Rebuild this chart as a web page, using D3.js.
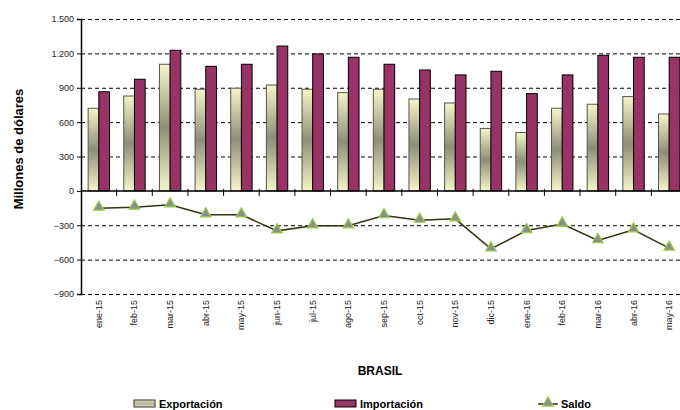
<!DOCTYPE html>
<html><head><meta charset="utf-8">
<script src="https://cdn.jsdelivr.net/npm/d3@7"></script>
<style>body{margin:0;background:#fff}svg{display:block;font-family:"Liberation Sans",Arial,sans-serif}</style>
</head><body><svg id="c" width="680" height="410"></svg>
<script>
const categories = ["ene-15","feb-15","mar-15","abr-15","may-15","jun-15","jul-15","ago-15","sep-15","oct-15","nov-15","dic-15","ene-16","feb-16","mar-16","abr-16","may-16"];
const exportacion = [721,828,1105,887,896,924,887,857,887,802,767,545,509,721,756,823,671];
const importacion = [865,974,1227,1087,1105,1264,1195,1166,1105,1055,1012,1044,849,1012,1183,1166,1166];
const saldo = [-151,-142,-122,-209,-209,-349,-305,-305,-215,-256,-244,-506,-346,-290,-433,-340,-500];
const yTicks = [1500,1200,900,600,300,0,-300,-600,-900];
const seriesNames = ["Exportación","Importación","Saldo"];

const svg = d3.select("#c");
const L = 81, R = 687, T = 19, B = 294;
const y = d3.scaleLinear().domain([-900,1500]).range([B,T]);
const x = d3.scaleBand().domain(categories).range([L,R]).paddingInner(0.4).paddingOuter(0.2);
const x1 = d3.scaleBand().domain([0,1]).range([0,x.bandwidth()]);
const fmt = v => d3.format(",")(v).replace(/,/g,".");

const defs = svg.append("defs");
const g1 = defs.append("linearGradient").attr("id","gexp").attr("x1",0).attr("y1",0).attr("x2",0).attr("y2",1);
g1.append("stop").attr("offset","0").attr("stop-color","#f6f6c8");
g1.append("stop").attr("offset","0.5").attr("stop-color","#8e8e76");
g1.append("stop").attr("offset","1").attr("stop-color","#f6f6c8");
const g2 = defs.append("linearGradient").attr("id","gleg").attr("x1",0).attr("y1",0).attr("x2",0).attr("y2",1);
g2.append("stop").attr("offset","0").attr("stop-color","#e6e6c0");
g2.append("stop").attr("offset","0.5").attr("stop-color","#b6b69a");
g2.append("stop").attr("offset","1").attr("stop-color","#e6e6c0");
defs.append("clipPath").attr("id","clip").append("rect").attr("x",0).attr("y",0).attr("width",680).attr("height",410);

const root = svg.append("g").attr("clip-path","url(#clip)");

// grid
root.append("g").selectAll("line").data(yTicks.filter(v=>v!==0)).join("line")
  .attr("x1",L).attr("x2",R).attr("y1",d=>y(d)+0.5).attr("y2",d=>y(d)+0.5)
  .attr("stroke","#000").attr("stroke-width",1).attr("stroke-dasharray","4,3");

// bars
const grp = root.append("g").selectAll("g").data(categories).join("g")
  .attr("transform",d=>`translate(${x(d)},0)`);
grp.append("rect").attr("x",x1(0)).attr("width",x1.bandwidth())
  .attr("y",(d,i)=>y(exportacion[i])).attr("height",(d,i)=>y(0)-y(exportacion[i]))
  .attr("fill","url(#gexp)").attr("stroke","#555").attr("stroke-width",1);
grp.append("rect").attr("x",x1(1)).attr("width",x1.bandwidth())
  .attr("y",(d,i)=>y(importacion[i])).attr("height",(d,i)=>y(0)-y(importacion[i]))
  .attr("fill","#993366").attr("stroke","#000").attr("stroke-width",1);

// y axis
const yAxis = d3.axisLeft(y).tickValues(yTicks).tickFormat(fmt).tickSize(4).tickPadding(3);
const ya = root.append("g").attr("transform",`translate(${L},0)`).call(yAxis);
ya.select(".domain").attr("stroke","#000").attr("stroke-width",1.5);
ya.selectAll("text").attr("font-size",9).attr("fill","#222").attr("font-family","'Liberation Sans',Arial,sans-serif");
ya.selectAll(".tick line").attr("stroke","#000");

// zero axis with boundary ticks
root.append("line").attr("x1",L).attr("x2",R).attr("y1",y(0)).attr("y2",y(0)).attr("stroke","#000").attr("stroke-width",1.5);
root.append("g").selectAll("line").data(d3.range(1,categories.length)).join("line")
  .attr("x1",k=>L+k*x.step()).attr("x2",k=>L+k*x.step())
  .attr("y1",y(0)-2).attr("y2",y(0)+5).attr("stroke","#000").attr("stroke-width",1);

// x labels at bottom
root.append("g").selectAll("text").data(categories).join("text")
  .attr("transform",d=>`translate(${x(d)+x.bandwidth()/2+3},${B+6}) rotate(-90)`)
  .attr("text-anchor","end").attr("font-size",9).attr("fill","#222").text(d=>d);

// saldo line
const cx = (d,i)=>x(categories[i])+x.bandwidth()/2;
root.append("path").datum(saldo)
  .attr("d",d3.line().x((d,i)=>cx(d,i)).y(d=>y(d)))
  .attr("fill","none").attr("stroke","#333311").attr("stroke-width",1.5);
const tri = d3.symbol().type(d3.symbolTriangle).size(48);
root.append("g").selectAll("path").data(saldo).join("path")
  .attr("d",tri).attr("transform",(d,i)=>`translate(${cx(d,i)},${y(d)-1})`)
  .attr("fill","#8c8c8c").attr("stroke","#99cc44").attr("stroke-width",1.2);

// titles
root.append("text").attr("transform","translate(23,149) rotate(-90)").attr("text-anchor","middle")
  .attr("font-size",13).attr("font-weight","bold").attr("fill","#000").text("Millones de dólares");
root.append("text").attr("x",380).attr("y",375).attr("text-anchor","middle")
  .attr("font-size",12).attr("font-weight","bold").attr("fill","#000").text("BRASIL");

// legend
const lg = root.append("g").attr("font-size",11).attr("font-weight","bold");
lg.append("rect").attr("x",134).attr("y",400).attr("width",21).attr("height",7).attr("fill","url(#gleg)").attr("stroke","#333");
lg.append("text").attr("x",159).attr("y",408).text(seriesNames[0]);
lg.append("rect").attr("x",335).attr("y",400).attr("width",21).attr("height",7).attr("fill","#993366").attr("stroke","#000");
lg.append("text").attr("x",360).attr("y",408).text(seriesNames[1]);
lg.append("line").attr("x1",538).attr("x2",558).attr("y1",404).attr("y2",404).attr("stroke","#333311").attr("stroke-width",1.5);
lg.append("path").attr("d",tri).attr("transform","translate(548,403)").attr("fill","#8c8c8c").attr("stroke","#99cc44").attr("stroke-width",1.2);
lg.append("text").attr("x",561).attr("y",408).text(seriesNames[2]);
</script></body></html>
